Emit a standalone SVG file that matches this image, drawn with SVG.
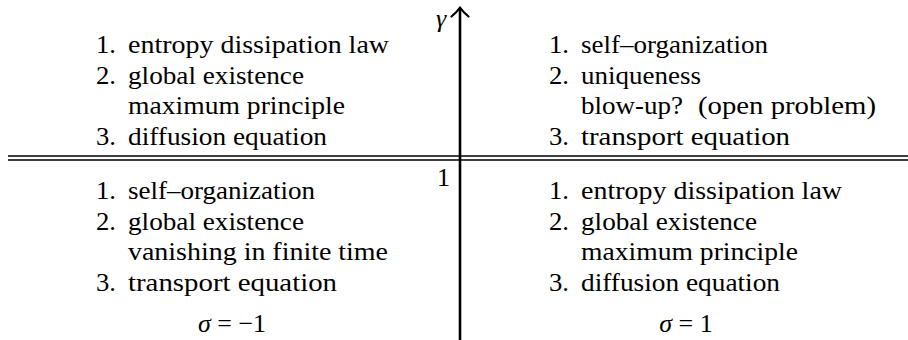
<svg xmlns="http://www.w3.org/2000/svg" width="908" height="340" viewBox="0 0 908 340">
<rect width="908" height="340" fill="#fff"/>
<g id="axes">
<line x1="8" y1="156" x2="908" y2="156" stroke="#000" stroke-width="1.3"/>
<line x1="8" y1="160" x2="908" y2="160" stroke="#000" stroke-width="1.3"/>
<line x1="460" y1="340" x2="460" y2="9" stroke="#000" stroke-width="2.6"/>
<path d="M451.5,16.5 Q457,12 460,7.5 Q463,12 468.5,16.5" stroke="#000" stroke-width="2.2" fill="none" stroke-linecap="round" stroke-linejoin="round"/>
<text x="436" y="27" font-family="Liberation Serif" font-size="26" font-style="italic">γ</text>
<text x="437" y="186" font-family="Liberation Serif" font-size="26">1</text>
</g>
<g id="upper-left">
<text x="96" y="53" font-family="Liberation Serif" font-size="26" textLength="20" lengthAdjust="spacingAndGlyphs">1.</text>
<text x="128" y="53" font-family="Liberation Serif" font-size="26" textLength="261" lengthAdjust="spacingAndGlyphs">entropy dissipation law</text>
<text x="96" y="84" font-family="Liberation Serif" font-size="26" textLength="20" lengthAdjust="spacingAndGlyphs">2.</text>
<text x="128" y="84" font-family="Liberation Serif" font-size="26" textLength="176" lengthAdjust="spacingAndGlyphs">global existence</text>
<text x="128" y="114" font-family="Liberation Serif" font-size="26" textLength="217" lengthAdjust="spacingAndGlyphs">maximum principle</text>
<text x="96" y="145" font-family="Liberation Serif" font-size="26" textLength="20" lengthAdjust="spacingAndGlyphs">3.</text>
<text x="128" y="145" font-family="Liberation Serif" font-size="26" textLength="199" lengthAdjust="spacingAndGlyphs">diffusion equation</text>
</g>
<g id="upper-right">
<text x="549" y="53" font-family="Liberation Serif" font-size="26" textLength="20" lengthAdjust="spacingAndGlyphs">1.</text>
<text x="581" y="53" font-family="Liberation Serif" font-size="26" textLength="187" lengthAdjust="spacingAndGlyphs">self–organization</text>
<text x="549" y="84" font-family="Liberation Serif" font-size="26" textLength="20" lengthAdjust="spacingAndGlyphs">2.</text>
<text x="581" y="84" font-family="Liberation Serif" font-size="26" textLength="120" lengthAdjust="spacingAndGlyphs">uniqueness</text>
<text x="581" y="114" font-family="Liberation Serif" font-size="26" textLength="102" lengthAdjust="spacingAndGlyphs">blow-up?</text>
<text x="698" y="114" font-family="Liberation Serif" font-size="26" textLength="178" lengthAdjust="spacingAndGlyphs">(open problem)</text>
<text x="549" y="145" font-family="Liberation Serif" font-size="26" textLength="20" lengthAdjust="spacingAndGlyphs">3.</text>
<text x="581" y="145" font-family="Liberation Serif" font-size="26" textLength="209" lengthAdjust="spacingAndGlyphs">transport equation</text>
</g>
<g id="lower-left">
<text x="96" y="199" font-family="Liberation Serif" font-size="26" textLength="20" lengthAdjust="spacingAndGlyphs">1.</text>
<text x="128" y="199" font-family="Liberation Serif" font-size="26" textLength="187" lengthAdjust="spacingAndGlyphs">self–organization</text>
<text x="96" y="230" font-family="Liberation Serif" font-size="26" textLength="20" lengthAdjust="spacingAndGlyphs">2.</text>
<text x="128" y="230" font-family="Liberation Serif" font-size="26" textLength="176" lengthAdjust="spacingAndGlyphs">global existence</text>
<text x="128" y="260" font-family="Liberation Serif" font-size="26" textLength="260" lengthAdjust="spacingAndGlyphs">vanishing in finite time</text>
<text x="96" y="291" font-family="Liberation Serif" font-size="26" textLength="20" lengthAdjust="spacingAndGlyphs">3.</text>
<text x="128" y="291" font-family="Liberation Serif" font-size="26" textLength="209" lengthAdjust="spacingAndGlyphs">transport equation</text>
<text x="232" y="332" font-family="Liberation Serif" font-size="26" text-anchor="middle"><tspan font-style="italic">σ</tspan> = −1</text>
</g>
<g id="lower-right">
<text x="549" y="199" font-family="Liberation Serif" font-size="26" textLength="20" lengthAdjust="spacingAndGlyphs">1.</text>
<text x="581" y="199" font-family="Liberation Serif" font-size="26" textLength="261" lengthAdjust="spacingAndGlyphs">entropy dissipation law</text>
<text x="549" y="230" font-family="Liberation Serif" font-size="26" textLength="20" lengthAdjust="spacingAndGlyphs">2.</text>
<text x="581" y="230" font-family="Liberation Serif" font-size="26" textLength="176" lengthAdjust="spacingAndGlyphs">global existence</text>
<text x="581" y="260" font-family="Liberation Serif" font-size="26" textLength="217" lengthAdjust="spacingAndGlyphs">maximum principle</text>
<text x="549" y="291" font-family="Liberation Serif" font-size="26" textLength="20" lengthAdjust="spacingAndGlyphs">3.</text>
<text x="581" y="291" font-family="Liberation Serif" font-size="26" textLength="199" lengthAdjust="spacingAndGlyphs">diffusion equation</text>
<text x="686" y="332" font-family="Liberation Serif" font-size="26" text-anchor="middle"><tspan font-style="italic">σ</tspan> = 1</text>
</g>
</svg>
